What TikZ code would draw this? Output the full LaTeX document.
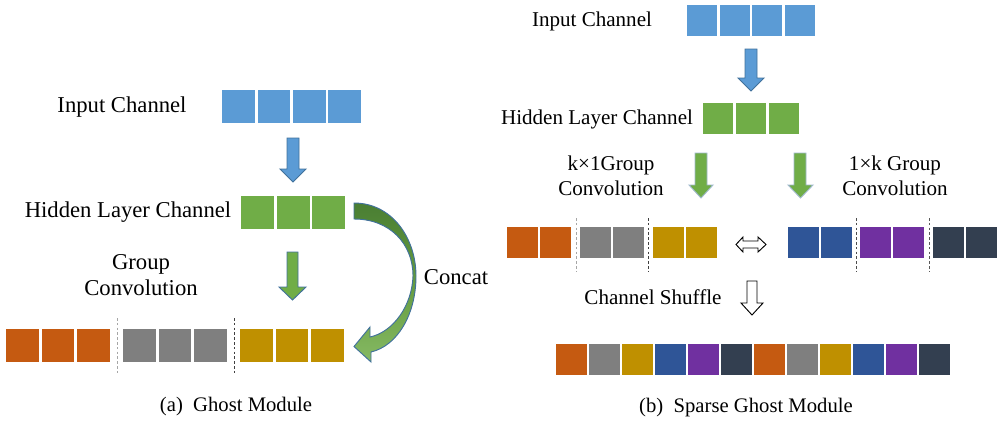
\documentclass[tikz,border=0pt]{standalone}
\usepackage{fontspec}
\setmainfont{Liberation Serif}
\definecolor{cblue}{HTML}{5B9BD5}
\definecolor{cgreen}{HTML}{70AD47}
\definecolor{cdkgreen}{HTML}{4A7E33}
\definecolor{corange}{HTML}{C55A11}
\definecolor{cgray}{HTML}{7F7F7F}
\definecolor{cgold}{HTML}{BF9000}
\definecolor{cnavy}{HTML}{2F5597}
\definecolor{cpurple}{HTML}{7030A0}
\definecolor{cslate}{HTML}{333F50}
\definecolor{coutline}{HTML}{41719C}
\newcommand\cellrow[6]{% x0, ytop, ybot, cellwidth, n, color
  \foreach \i in {1,...,#5}{\fill[#6] ({#1+(\i-1)*#4+1.3},#2) rectangle ({#1+\i*#4-1.3},#3);}}
\tikzset{
  lblL/.style={font=\fontsize{17}{20}\selectfont, align=center, inner sep=0},
  lblR/.style={font=\fontsize{15.8}{18.5}\selectfont, align=center, inner sep=0},
  captext/.style={font=\fontsize{15.5}{18}\selectfont, inner sep=0},
  sep/.style={line width=0.6pt, dash pattern=on 2pt off 1.6pt},
  blockarrow/.style={line width=0.7pt, draw=coutline, line join=miter},
  hollow/.style={line width=0.7pt, draw=black, fill=white, line join=miter}
}
\begin{document}
\begin{tikzpicture}[x=0.75pt,y=-0.75pt]
\useasboundingbox (0,0) rectangle (999,426);
% ---------------- (a) Ghost Module ----------------
\node[lblL] (aIn) at (122,107) {Input Channel};
\cellrow{221}{90}{123}{35.3}{4}{cblue}
\node[lblL] (aHid) at (128,212) {Hidden Layer Channel};
\cellrow{240}{196}{229}{35.4}{3}{cgreen}
\node[lblL] (aGC) at (141,275) {Group\\Convolution};
\node[lblL] (aCat) at (456,277) {Concat};
\cellrow{5}{329}{362}{35.3}{3}{corange}
\cellrow{122}{329}{362}{35.3}{3}{cgray}
\cellrow{239}{329}{362}{35.3}{3}{cgold}
\draw[sep, draw=black!35] (117,318) -- (117,375);
\draw[sep, draw=black!75] (234,318) -- (234,375);
% blue arrow
\draw[blockarrow, fill=cblue] (287,138) -- (299,138) -- (299,169) -- (306,169) -- (293,182) -- (280,169) -- (287,169) -- cycle;
% green arrow
\draw[blockarrow, fill=cgreen] (287,252) -- (298,252) -- (298,287) -- (306,287) -- (292.5,300) -- (279,287) -- (287,287) -- cycle;
% concat curved arrow
\draw[blockarrow, top color=cdkgreen, bottom color=cgreen!85!white, middle color=cgreen!90!black]
  (354,203) .. controls (392,203) and (416,238) .. (416,276)
  .. controls (416,315) and (397,346) .. (371,352)
  -- (371,362) -- (354,346.5) -- (370,327) -- (370,337)
  .. controls (393,332) and (412,306) .. (413,276)
  .. controls (413,244) and (390,219) .. (354,219) -- cycle;
\node[captext] (capA) at (236,407) {(a)\enspace Ghost Module};
% ---------------- (b) Sparse Ghost Module ----------------
\node[lblR] (bIn) at (592,21) {Input Channel};
\cellrow{685.5}{5}{36}{32.7}{4}{cblue}
\node[lblR] (bHid) at (597,119) {Hidden Layer Channel};
\cellrow{701.5}{103}{134}{32.9}{3}{cgreen}
\node[lblR] (bK1) at (611,176) {k×1Group\\Convolution};
\node[lblR] (b1K) at (895,176) {1×k Group\\Convolution};
% arrows
\draw[blockarrow, fill=cblue] (745,49) -- (757,49) -- (757,78) -- (764,78) -- (751,91) -- (738,78) -- (745,78) -- cycle;
\draw[blockarrow, draw=coutline!50, fill=cgreen] (695,153) -- (707,153) -- (707,185) -- (713,185) -- (701,198) -- (689,185) -- (695,185) -- cycle;
\draw[blockarrow, draw=coutline!50, fill=cgreen] (794,153) -- (806,153) -- (806,185) -- (813,185) -- (800.5,198) -- (788,185) -- (794,185) -- cycle;
% middle rows
\cellrow{506}{227}{258}{33}{2}{corange}
\cellrow{579}{227}{258}{33}{2}{cgray}
\cellrow{652}{227}{258}{33}{2}{cgold}
\cellrow{787}{227}{258}{33}{2}{cnavy}
\cellrow{859}{227}{258}{33}{2}{cpurple}
\cellrow{932}{227}{258}{33}{2}{cslate}
\draw[sep, draw=black!35] (576,218) -- (576,272);
\draw[sep, draw=black!75] (648,218) -- (648,272);
\draw[sep, draw=black!70] (856,218) -- (856,272);
\draw[sep, draw=black!65] (929,218) -- (929,272);
% double arrow
\draw[hollow] (736,244.5) -- (743,237) -- (743,241) -- (758,241) -- (758,237) -- (766,244.5) -- (758,252) -- (758,248) -- (743,248) -- (743,252) -- cycle;
% channel shuffle
\node[lblR] (bCS) at (653,297) {Channel Shuffle};
\draw[hollow] (747,281) -- (757,281) -- (757,303) -- (763,303) -- (752,315) -- (741,303) -- (747,303) -- cycle;
\foreach \c [count=\k from 0] in {corange,cgray,cgold,cnavy,cpurple,cslate,corange,cgray,cgold,cnavy,cpurple,cslate}{
  \fill[\c] ({555+\k*33+1.2},344) rectangle ({555+(\k+1)*33-1.2},375);
}
\node[captext] (capB) at (746,408) {(b)\enspace Sparse Ghost Module};
\end{tikzpicture}
\end{document}
